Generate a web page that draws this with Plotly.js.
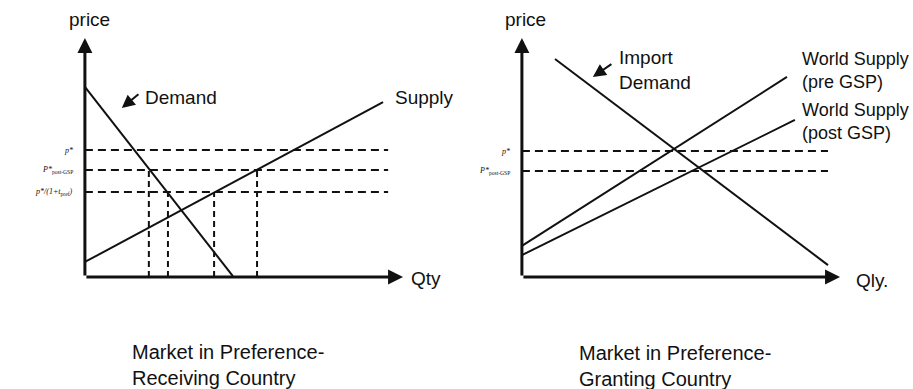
<!DOCTYPE html>
<html>
<head>
<meta charset="utf-8">
<script src="https://cdn.plot.ly/plotly-3.0.1.min.js"></script>
<style>
  html, body { margin: 0; padding: 0; background: #fff; }
  #chart { width: 913px; height: 389px; }
</style>
</head>
<body>
<div id="chart"></div>
<script>
// left panel: market in preference-receiving country
const recvDemandQty = [0, 4.65];
const recvDemandPrice = [7.95, 0.04];
const recvSupplyQty = [0, 9.37];
const recvSupplyPrice = [0.63, 7.32];
const recvPriceLevels = [5.31, 4.48, 3.56];   // p*, p*post-GSP, p*/(1+t_pref)
const recvPriceLabels = ['<i>p*</i>', '<i>P*</i><sub>post-GSP</sub>', '<i>p*/(1+t</i><sub>pref</sub><i>)</i>'];
const recvDashEnd = 9.53;
const recvQtyMarks = [2.01, 2.61, 4.06, 5.41];
const recvQtyMarkTops = [4.48, 3.56, 3.56, 4.48];

// right panel: market in preference-granting country
const grantDemandQty = [1.04, 9.62];
const grantDemandPrice = [9.12, 0.50];
const grantPreQty = [0, 8.33];
const grantPrePrice = [1.30, 8.37];
const grantPostQty = [0, 8.58];
const grantPostPrice = [0.92, 6.57];
const grantPriceLevels = [5.27, 4.44];         // p*, p*post-GSP
const grantPriceLabels = ['<i>p*</i>', '<i>P*</i><sub>post-GSP</sub>'];
const grantDashEnd = 9.62;

const FONT = 'Liberation Sans, Arial, sans-serif';
const INK = '#111';

const solid = (x, y, xa, ya) => ({
  x: x, y: y, xaxis: xa, yaxis: ya,
  mode: 'lines', type: 'scatter', hoverinfo: 'skip',
  line: { color: INK, width: 2 }
});

const dashed = (x, y, xa, ya, dash) => ({
  x: x, y: y, xaxis: xa, yaxis: ya,
  mode: 'lines', type: 'scatter', hoverinfo: 'skip',
  line: { color: INK, width: 2, dash: dash }
});

const data = [
  solid(recvDemandQty, recvDemandPrice, 'x', 'y'),
  solid(recvSupplyQty, recvSupplyPrice, 'x', 'y'),
  solid(grantDemandQty, grantDemandPrice, 'x2', 'y2'),
  solid(grantPreQty, grantPrePrice, 'x2', 'y2'),
  solid(grantPostQty, grantPostPrice, 'x2', 'y2')
];

recvPriceLevels.forEach(p => data.push(dashed([0, recvDashEnd], [p, p], 'x', 'y', '8px,5px')));
recvQtyMarks.forEach((q, i) => data.push(dashed([q, q], [0, recvQtyMarkTops[i]], 'x', 'y', '6px,4px')));
grantPriceLevels.forEach(p => data.push(dashed([0, grantDashEnd], [p, p], 'x2', 'y2', '8px,5px')));

/**
 * Layout
 */
const hidden = (domain) => ({
  domain: domain, range: [-0.5, 10.5],
  showgrid: false, zeroline: false, showline: false,
  showticklabels: false, ticks: '', fixedrange: true
});

// axis arrows drawn as annotation arrows from the origin
const axisArrow = (xr, yr, x, y) => ({
  xref: xr, yref: yr, axref: xr, ayref: yr,
  x: x, y: y, ax: 0, ay: 0, text: '',
  showarrow: true, arrowhead: 2, arrowsize: 1, arrowwidth: 3, arrowcolor: INK
});

const pointer = (xr, yr, x, y, ax, ay) => ({
  xref: xr, yref: yr, axref: xr, ayref: yr,
  x: x, y: y, ax: ax, ay: ay, text: '',
  showarrow: true, arrowhead: 2, arrowsize: 1.3, arrowwidth: 2, arrowcolor: INK
});

const label = (xr, yr, x, y, text, size, xanchor) => ({
  xref: xr, yref: yr, x: x, y: y, text: text,
  showarrow: false, xanchor: xanchor || 'left', yanchor: 'middle', align: 'left',
  font: { family: FONT, size: size || 19, color: INK }
});

const tickLabel = (xr, yr, y, text) => ({
  xref: xr, yref: yr, x: -0.3, y: y, text: text,
  showarrow: false, xanchor: 'right', yanchor: 'middle',
  font: { family: 'Liberation Serif, serif', size: 8, color: INK }
});

const annotations = [
  axisArrow('x', 'y', 10, 0),
  axisArrow('x', 'y', 0, 10),
  axisArrow('x2', 'y2', 10, 0),
  axisArrow('x2', 'y2', 0, 10),
  pointer('x', 'y', 1.16, 7.07, 1.73, 7.70),
  pointer('x2', 'y2', 2.23, 8.37, 2.86, 8.95),
  label('paper', 'paper', 89 / 913, 1 - 19 / 389, 'price', 19, 'center'),
  label('paper', 'paper', 525 / 913, 1 - 19 / 389, 'price', 19, 'center'),
  label('x', 'y', 1.82, 7.53, 'Demand'),
  label('x', 'y', 9.69, 7.49, 'Supply'),
  label('x', 'y', 10.2, -0.05, 'Qty'),
  label('x2', 'y2', 2.99, 8.66, 'Import<br>Demand'),
  label('x2', 'y2', 8.74, 8.62, 'World Supply<br>(pre GSP)', 18),
  label('x2', 'y2', 8.74, 6.49, 'World Supply<br>(post GSP)', 18),
  label('x2', 'y2', 10.45, -0.15, 'Qly.'),
  label('paper', 'paper', 130 / 913, 0.062, 'Market in Preference-<br>Receiving Country', 20),
  label('paper', 'paper', 577 / 913, 0.058, 'Market in Preference-<br>Granting Country', 20)
];

recvPriceLevels.forEach((p, i) => annotations.push(tickLabel('x', 'y', p, recvPriceLabels[i])));
grantPriceLevels.forEach((p, i) => annotations.push(tickLabel('x2', 'y2', p, grantPriceLabels[i])));

const layout = {
  width: 913,
  height: 389,
  margin: { l: 0, r: 0, t: 0, b: 0 },
  paper_bgcolor: '#fff',
  plot_bgcolor: '#fff',
  showlegend: false,
  xaxis: hidden([69 / 913, 419 / 913]),
  yaxis: hidden([1 - 289 / 389, 1 - 26 / 389]),
  xaxis2: hidden([506 / 913, 856 / 913]),
  yaxis2: hidden([1 - 289 / 389, 1 - 26 / 389]),
  annotations: annotations
};

Plotly.newPlot('chart', data, layout, { staticPlot: true, displayModeBar: false });
</script>
</body>
</html>
